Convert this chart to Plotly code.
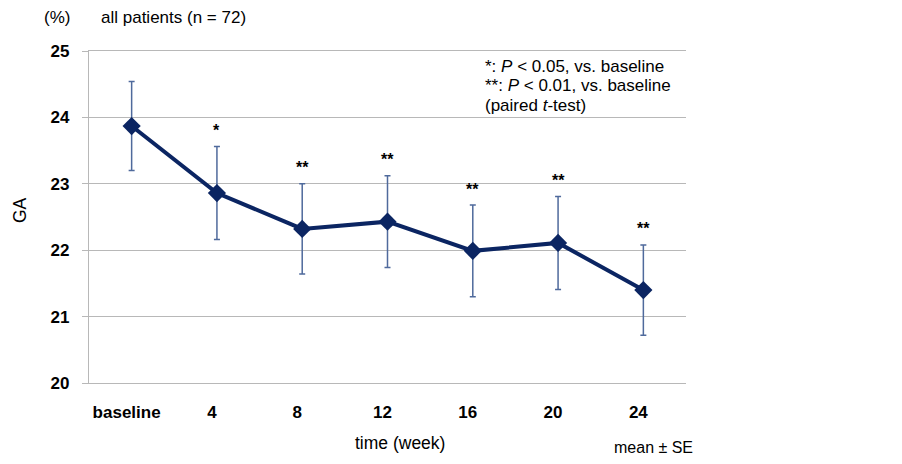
import plotly.graph_objects as go

categories = ["baseline", "4", "8", "12", "16", "20", "24"]
means = [23.87, 22.86, 22.32, 22.43, 21.99, 22.11, 21.40]
ses = [0.67, 0.70, 0.68, 0.69, 0.69, 0.70, 0.68]
stars = ["", "*", "**", "**", "**", "**", "**"]
y_ticks = [20, 21, 22, 23, 24, 25]

FONT = "Liberation Sans, Arial, sans-serif"
NAVY = "#0b2562"
ERR = "#4f6a9c"
GRID = "#b8b8b8"

OFF = 8  # default page body margin
W, H = 902 - 2 * OFF, 464 - 2 * OFF
L = 89 - OFF
T = 51 - OFF
R = W - (686 - OFF)
B = H - (383 - OFF)
PW, PH = W - L - R, H - T - B


def px(x):
    return (x - OFF - L) / PW


def py(y):
    return (H - B - (y - OFF)) / PH


fig = go.Figure()
fig.add_trace(go.Scatter(
    x=categories, y=means,
    mode="lines+markers",
    line=dict(color=NAVY, width=4),
    marker=dict(symbol="diamond", size=14, color=NAVY),
    error_y=dict(type="data", array=ses, visible=True, color=ERR,
                 thickness=1.5, width=3),
    showlegend=False,
))

ann = []
for i, (m, s, st) in enumerate(zip(means, ses, stars)):
    if st:
        ann.append(dict(x=i, y=m + s, xref="x", yref="y", text=st,
                        showarrow=False, yanchor="middle", yshift=16,
                        font=dict(family=FONT, size=16, color="black",
                                  weight="bold")))


def txt(t, x, y, xanchor="left", yanchor="middle", size=17.5, angle=0):
    ann.append(dict(x=px(x), y=py(y), xref="paper", yref="paper", text=t,
                    showarrow=False, xanchor=xanchor, yanchor=yanchor,
                    textangle=angle, borderpad=0,
                    font=dict(family=FONT, size=size, color="black")))


txt("(%)", 56.5, OFF - 1, xanchor="center", yanchor="top", size=17)
txt("all patients (n = 72)", 100, OFF - 1, yanchor="top", size=17)
txt("GA", 20, 210, xanchor="center", angle=-90)
txt("time (week)", 400, 443, xanchor="center")
txt("mean ± SE", 613, 447, size=16)
txt("*: <i>P</i> &lt; 0.05, vs. baseline", 484, 66, size=17)
txt("**: <i>P</i> &lt; 0.01, vs. baseline", 484, 85.5, size=17)
txt("(paired <i>t</i>-test)", 484, 105, size=17)

fig.update_layout(
    width=W, height=H,
    margin=dict(l=L, r=R, t=T, b=B, pad=0),
    paper_bgcolor="white", plot_bgcolor="white",
    annotations=ann,
    font=dict(family=FONT, color="black"),
)
fig.update_xaxes(
    type="category", range=[-0.5, 6.5],
    showgrid=False, showline=True, linecolor=GRID, linewidth=1.3,
    mirror=True, ticks="",
    tickfont=dict(family=FONT, size=17, color="black", weight="bold"),
    ticklabelstandoff=13, ticklabelshift=-5,
)
fig.update_yaxes(
    range=[20, 25], tickvals=y_ticks,
    showgrid=True, gridcolor=GRID, gridwidth=1.3,
    showline=True, linecolor=GRID, linewidth=1.3,
    ticks="outside", ticklen=6, tickcolor=GRID, tickwidth=1.3,
    tickfont=dict(family=FONT, size=17, color="black", weight="bold"),
    ticklabelstandoff=9, zeroline=False,
)

fig.write_html("out.html")
